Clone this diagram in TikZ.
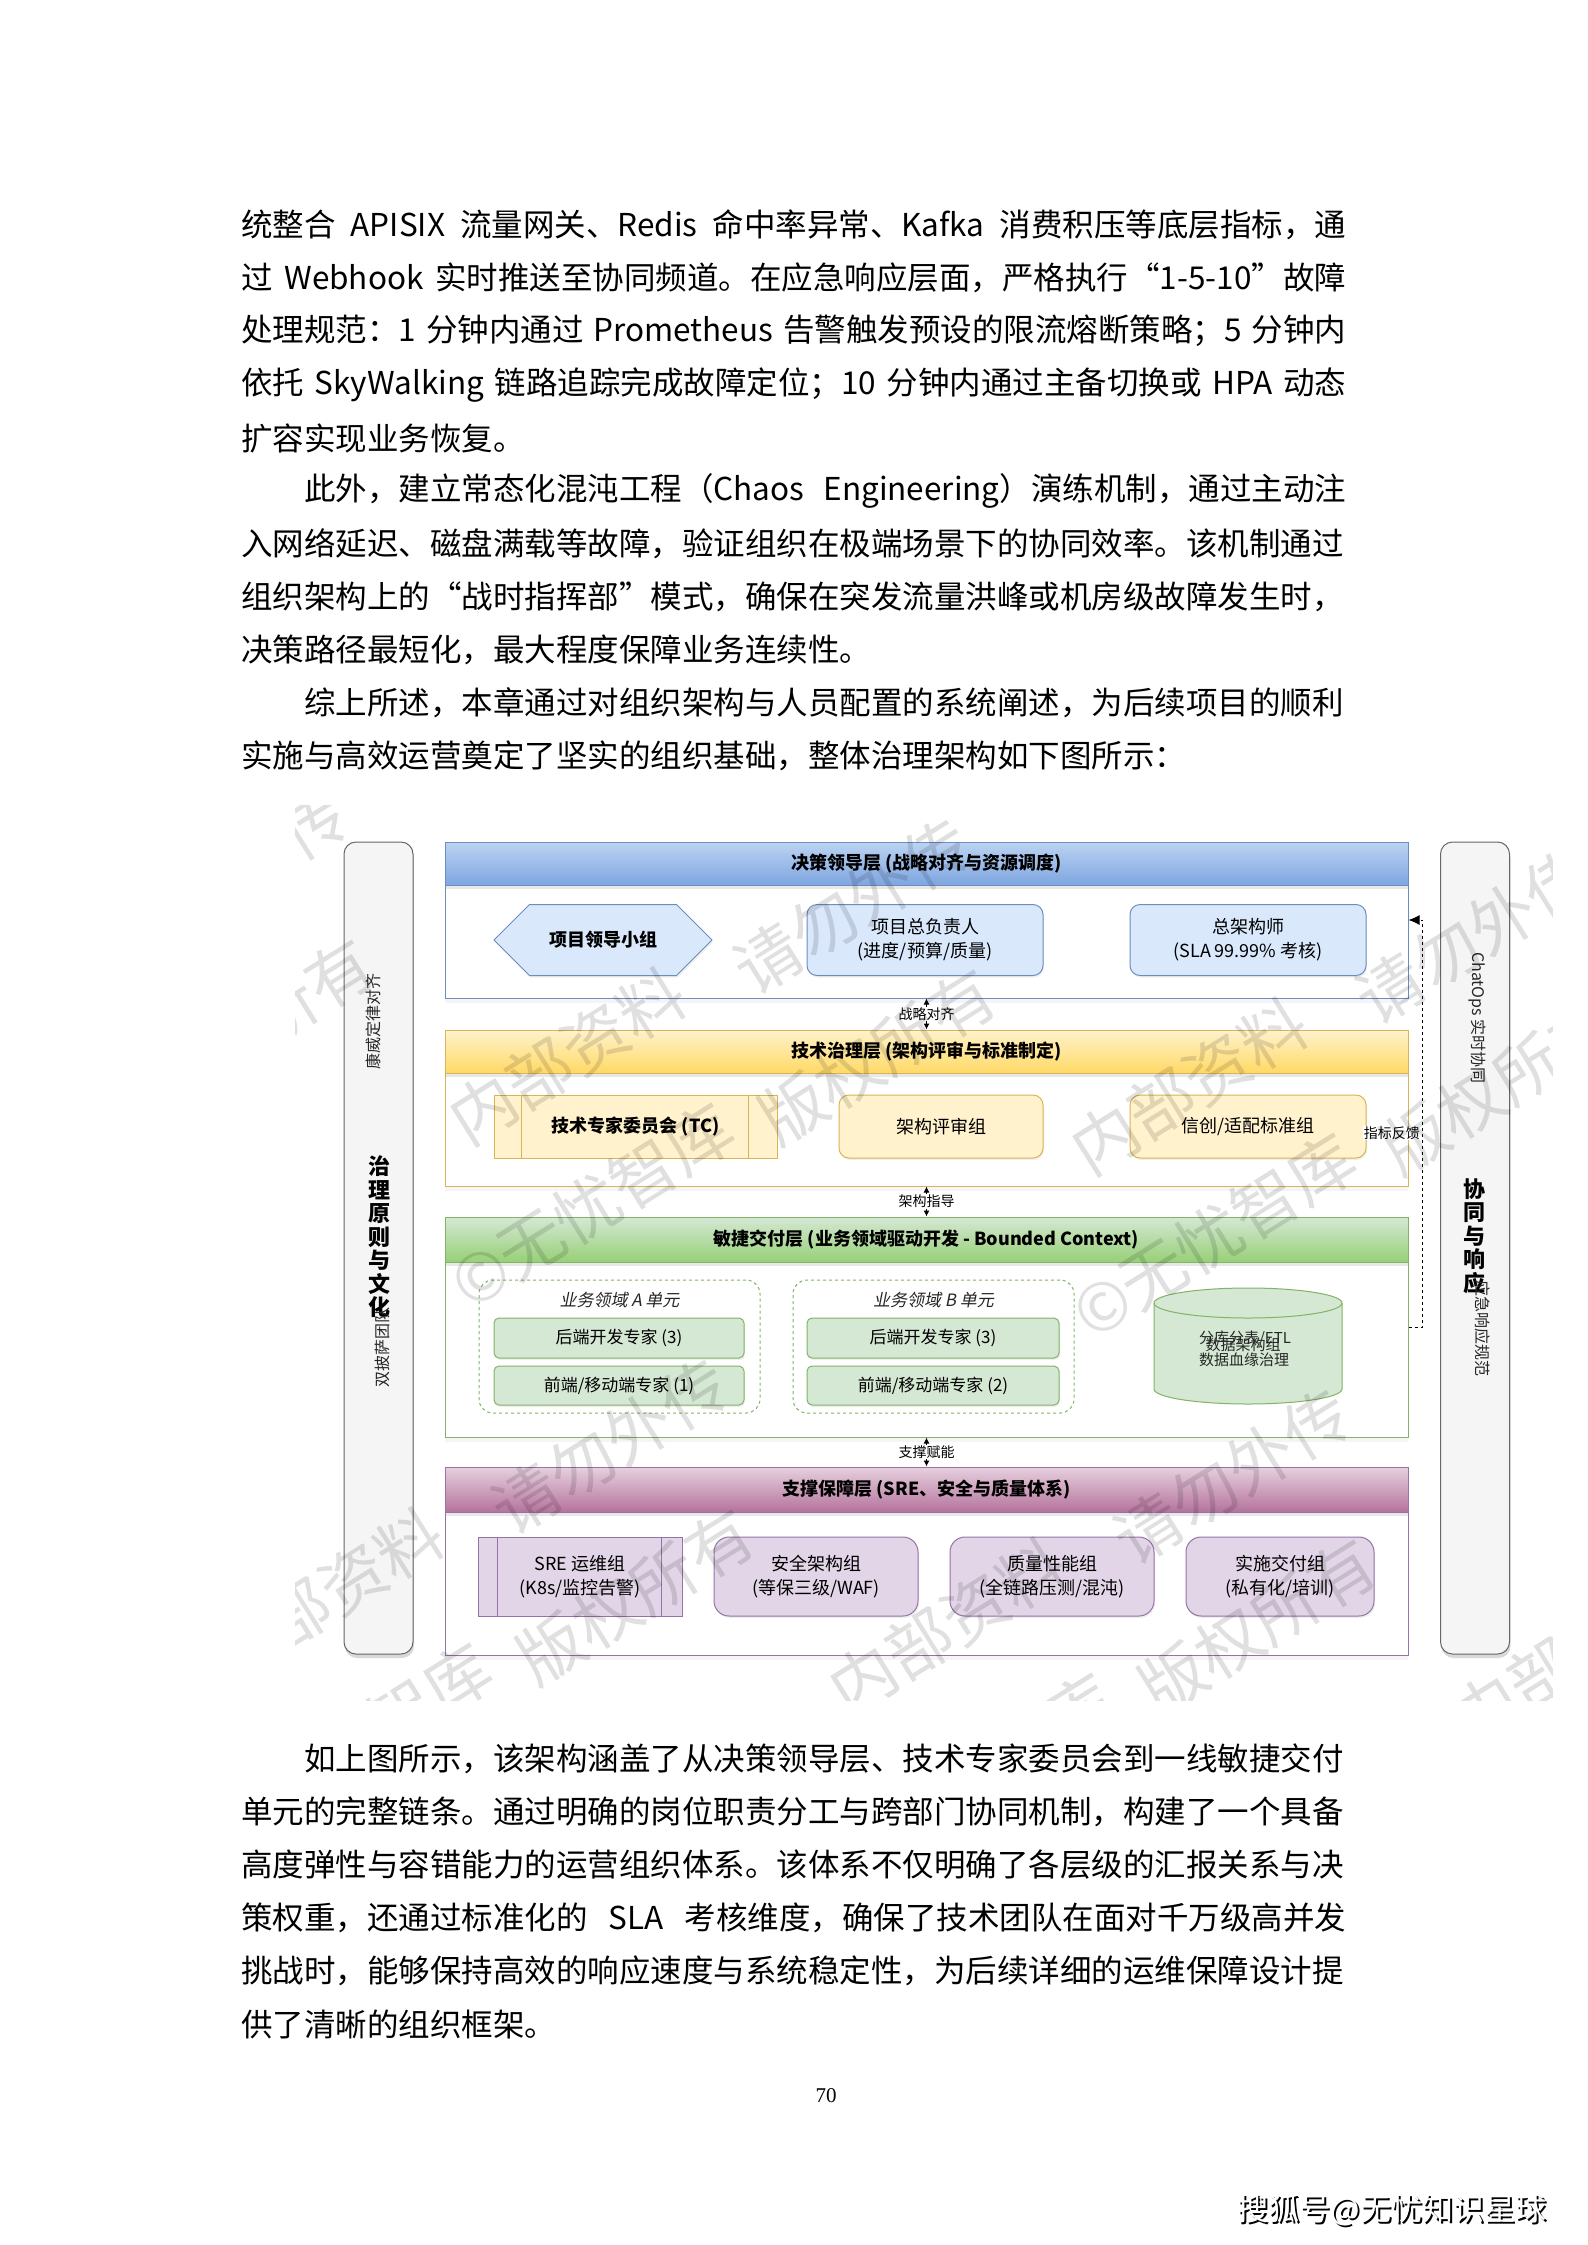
\documentclass[tikz,border=0pt]{standalone}
\usepackage{fontspec}
\setmainfont{Noto Sans CJK SC}
\newfontfamily\slfont[FakeSlant=0.2]{Noto Sans CJK SC}
\newfontfamily\numfont{Liberation Serif}
\usetikzlibrary{shapes.geometric,shapes.symbols,shadows,arrows.meta}
\XeTeXlinebreaklocale "zh"
\XeTeXlinebreakskip=0pt plus 2pt minus 0.3pt
\definecolor{bluestroke}{HTML}{6C8EBF}
\definecolor{bluefill}{HTML}{DAE8FC}
\definecolor{bluetop}{HTML}{BCD3F2}
\definecolor{bluebot}{HTML}{7EA6E0}
\definecolor{yelstroke}{HTML}{D6B656}
\definecolor{yelfill}{HTML}{FFF2CC}
\definecolor{yeltop}{HTML}{FFF2CC}
\definecolor{yelbot}{HTML}{FFD966}
\definecolor{grnstroke}{HTML}{82B366}
\definecolor{grnfill}{HTML}{D5E8D4}
\definecolor{grntop}{HTML}{D5E8D4}
\definecolor{grnbot}{HTML}{97D077}
\definecolor{purstroke}{HTML}{9673A6}
\definecolor{purfill}{HTML}{E1D5E7}
\definecolor{purtop}{HTML}{E6D0DE}
\definecolor{purbot}{HTML}{B5739D}
\definecolor{barfill}{HTML}{F5F5F5}
\definecolor{bardraw}{HTML}{666666}
\newcommand{\fs}[2]{\fontsize{#1}{#2}\selectfont}
\newcommand{\jl}[3]{\node[anchor=west,inner sep=0pt] (#1) at (241,#2) {\fs{31.5}{40}\hbox to 1105pt{#3}};}
\newcommand{\nl}[3]{\node[anchor=west,inner sep=0pt] (#1) at (241,#2) {\fs{31.5}{40}#3};}
\begin{document}
\begin{tikzpicture}[x=1pt,y=-1pt,
  sidebar/.style={draw=bardraw, fill=barfill, rounded corners=12pt, minimum width=69pt, minimum height=812pt, inner sep=0pt, line width=1pt, drop shadow={opacity=0.3, shadow xshift=1pt, shadow yshift=-4pt}},
  layer/.style={draw=#1, fill=white, minimum width=963pt, inner sep=0pt, line width=1pt, drop shadow={opacity=0.08, shadow xshift=0pt, shadow yshift=-5pt}},
  hdr/.style={minimum width=963pt, inner sep=0pt, font=\fs{18}{22}\bfseries, text=black, line width=1pt, drop shadow={opacity=0.18, shadow xshift=0pt, shadow yshift=-4pt}},
  box/.style={draw=#1, rounded corners=10pt, inner sep=2pt, align=center, font=\fs{18}{24}, text=black, line width=1pt, drop shadow={opacity=0.12, shadow xshift=1pt, shadow yshift=-2pt}},
  proc/.style={draw=#1, inner sep=2pt, align=center, font=\fs{18}{24}, text=black, line width=1pt},
  lbl/.style={fill=white, inner sep=1pt, font=\fs{14}{16}, text=black},
  side/.style={inner sep=0pt, font=\fs{16}{18}, text=black!85},
  stack/.style={inner sep=0pt, align=center, font=\fs{22}{23.5}\bfseries, text=black},
  wm/.style={inner sep=0pt, font=\fs{66}{66}, text=black, text opacity=0.12, rotate=32},
  conn/.style={line width=1pt, {Latex[length=6pt,width=6pt]}-{Latex[length=6pt,width=6pt]}},
  fb/.style={line width=1pt, dashed, -{Latex[length=11pt,width=10pt]}}]
\useasboundingbox (0,0) rectangle (1587,2245);
\fill[white] (0,0) rectangle (1587,2245);

% ---------- body text above ----------
\jl{t1}{225}{统整合 APISIX 流量网关、Redis 命中率异常、Kafka 消费积压等底层指标，通}
\jl{t2}{278}{过 Webhook 实时推送至协同频道。在应急响应层面，严格执行“1-5-10”故障}
\jl{t3}{331}{处理规范：1 分钟内通过 Prometheus 告警触发预设的限流熔断策略；5 分钟内}
\jl{t4}{385}{依托 SkyWalking 链路追踪完成故障定位；10 分钟内通过主备切换或 HPA 动态}
\nl{t5}{438}{扩容实现业务恢复。}
\jl{t6}{491}{\hspace*{2em}此外，建立常态化混沌工程（Chaos Engineering）演练机制，通过主动注}
\jl{t7}{544}{入网络延迟、磁盘满载等故障，验证组织在极端场景下的协同效率。该机制通过}
\jl{t8}{597}{组织架构上的“战时指挥部”模式，确保在突发流量洪峰或机房级故障发生时，}
\nl{t9}{650}{决策路径最短化，最大程度保障业务连续性。}
\jl{t10}{703}{\hspace*{2em}综上所述，本章通过对组织架构与人员配置的系统阐述，为后续项目的顺利}
\nl{t11}{756}{实施与高效运营奠定了坚实的组织基础，整体治理架构如下图所示：}

% ---------- side bars ----------
\node[sidebar] (LB) at (378.5,1248) {};
\node[sidebar] (RB) at (1475,1248) {};
\node[side, rotate=90] (lbt1) at (373,1021) {康威定律对齐};
\node[stack] (lbt2) at (379,1237) {治\\理\\原\\则\\与\\文\\化};
\node[side, rotate=90] (lbt3) at (382,1347) {双披萨团队};
\node[side, rotate=-90] (rbt1) at (1477,1018) {ChatOps 实时协同};
\node[stack] (rbt2) at (1474,1236) {协\\同\\与\\响\\应};
\node[side, rotate=-90] (rbt3) at (1483,1328) {应急响应规范};

% ---------- layers ----------
\node[layer=bluestroke, minimum height=156pt] (L1) at (926.5,920) {};
\node[layer=yelstroke, minimum height=156pt] (L2) at (926.5,1108) {};
\node[layer=grnstroke, minimum height=220pt] (L3) at (926.5,1327) {};
\node[layer=purstroke, minimum height=188pt] (L4) at (926.5,1561) {};

\node[hdr, draw=bluestroke, top color=bluetop, bottom color=bluebot, minimum height=43pt] (H1) at (926.5,863.5) {决策领导层 (战略对齐与资源调度)};
\node[hdr, draw=yelstroke, top color=yeltop, bottom color=yelbot, minimum height=43pt] (H2) at (926.5,1051.5) {技术治理层 (架构评审与标准制定)};
\node[hdr, draw=grnstroke, top color=grntop, bottom color=grnbot, minimum height=45pt] (H3) at (926.5,1239.5) {敏捷交付层 (业务领域驱动开发 - Bounded Context)};
\node[hdr, draw=purstroke, top color=purtop, bottom color=purbot, minimum height=45pt] (H4) at (926.5,1489.5) {支撑保障层 (SRE、安全与质量体系)};

% layer 1
\node[signal, signal to=east and west, signal pointer angle=90, draw=bluestroke, fill=bluefill, line width=1pt, minimum width=218pt, minimum height=71pt, inner sep=0pt, font=\fs{18}{24}\bfseries, drop shadow={opacity=0.12, shadow xshift=1pt, shadow yshift=-2pt}] (B11) at (603,940) {项目领导小组};
\node[box=bluestroke, fill=bluefill, minimum width=236pt, minimum height=71pt] (B12) at (925,940) {项目总负责人\\(进度/预算/质量)};
\node[box=bluestroke, fill=bluefill, minimum width=236pt, minimum height=71pt] (B13) at (1248,940) {总架构师\\(SLA 99.99\% 考核)};

% layer 2
\node[proc=yelstroke, fill=yelfill, minimum width=283pt, minimum height=63pt, font=\fs{18}{24}\bfseries] (B21) at (635.5,1126.5) {技术专家委员会 (TC)};
\draw[yelstroke, line width=1pt] ([xshift=28pt]B21.north west) -- ([xshift=28pt]B21.south west);
\draw[yelstroke, line width=1pt] ([xshift=-29pt]B21.north east) -- ([xshift=-29pt]B21.south east);
\node[box=yelstroke, fill=yelfill, minimum width=204pt, minimum height=63pt] (B22) at (941,1126.5) {架构评审组};
\node[box=yelstroke, fill=yelfill, minimum width=236pt, minimum height=63pt] (B23) at (1248,1126.5) {信创/适配标准组};

% layer 3
\node[draw=grnstroke, dashed, line width=1pt, rounded corners=14pt, minimum width=281pt, minimum height=133pt] (GA) at (619.5,1346.5) {};
\node[draw=grnstroke, dashed, line width=1pt, rounded corners=14pt, minimum width=281pt, minimum height=133pt] (GB) at (933.5,1346.5) {};
\node[inner sep=0pt, font=\fs{17}{20}\slfont, text=black!85] (GAt) at (619.5,1300) {业务领域 A 单元};
\node[inner sep=0pt, font=\fs{17}{20}\slfont, text=black!85] (GBt) at (933.5,1300) {业务领域 B 单元};
\node[box=grnstroke, fill=grnfill, rounded corners=5pt, minimum width=250pt, minimum height=40pt, font=\fs{17}{20}] (A1) at (619,1338) {后端开发专家 (3)};
\node[box=grnstroke, fill=grnfill, rounded corners=5pt, minimum width=250pt, minimum height=39pt, font=\fs{17}{20}] (A2) at (619,1385.5) {前端/移动端专家 (1)};
\node[box=grnstroke, fill=grnfill, rounded corners=5pt, minimum width=252pt, minimum height=40pt, font=\fs{17}{20}] (Bb1) at (933,1338) {后端开发专家 (3)};
\node[box=grnstroke, fill=grnfill, rounded corners=5pt, minimum width=252pt, minimum height=39pt, font=\fs{17}{20}] (Bb2) at (933,1385.5) {前端/移动端专家 (2)};
\node[inner sep=0pt, minimum width=188pt, minimum height=116pt] (Cyl) at (1248,1346) {};
\filldraw[draw=grnstroke, fill=grnfill, line width=1pt] (1154,1303) -- (1154,1389) arc[start angle=180, end angle=0, x radius=94, y radius=15] -- (1342,1303) arc[start angle=0, end angle=-180, x radius=94, y radius=15] -- cycle;
\draw[grnstroke, line width=1pt] (1154,1303) arc[start angle=180, end angle=0, x radius=94, y radius=15];
\node[inner sep=0pt, font=\fs{15}{16}, text=black!85] (cy1) at (1245,1339) {分库分表/ETL};
\node[inner sep=0pt, font=\fs{15}{16}, text=black!85] (cy2) at (1243,1345) {数据架构组};
\node[inner sep=0pt, font=\fs{15}{16}, text=black!85] (cy3) at (1244,1360) {数据血缘治理};

% layer 4
\node[proc=purstroke, fill=purfill, minimum width=204pt, minimum height=79pt] (S1) at (580,1576.5) {SRE 运维组\\(K8s/监控告警)};
\draw[purstroke, line width=1pt] ([xshift=20pt]S1.north west) -- ([xshift=20pt]S1.south west);
\draw[purstroke, line width=1pt] ([xshift=-21pt]S1.north east) -- ([xshift=-21pt]S1.south east);
\node[box=purstroke, fill=purfill, rounded corners=15pt, minimum width=204pt, minimum height=79pt] (S2) at (816,1576.5) {安全架构组\\(等保三级/WAF)};
\node[box=purstroke, fill=purfill, rounded corners=15pt, minimum width=204pt, minimum height=79pt] (S3) at (1052,1576.5) {质量性能组\\(全链路压测/混沌)};
\node[box=purstroke, fill=purfill, rounded corners=15pt, minimum width=188pt, minimum height=79pt] (S4) at (1280,1576.5) {实施交付组\\(私有化/培训)};

% connectors
\draw[conn] (L1.south) -- node[lbl] (c1) {战略对齐} (L2.north);
\draw[conn] (L2.south) -- node[lbl] (c2) {架构指导} (L3.north);
\draw[conn] (L3.south) -- node[lbl] (c3) {支撑赋能} (L4.north);
\draw[fb] (L3.east) -- ++(14,0) |- (L1.east);
\node[lbl, anchor=east] (fbl) at (1421,1133) {指标反馈};

% watermark
\begin{scope}
\clip (295,805) rectangle (1552,1700);
\foreach \px/\py [count=\i] in {567/1056, 1189/1086, -55/1026, 947/1626, 1569/1656, 325/1596, 187/486, 809/516} {
  \node[wm] (wma\i) at (\px,\py) {内部资料};
  \node[wm] (wmb\i) at (\px+285,\py-150) {请勿外传};
  \node[wm] (wmc\i) at (\px+25,\py+150) {©无忧智库};
  \node[wm] (wmd\i) at (\px+310,\py) {版权所有};
}
\end{scope}

% ---------- body text below ----------
\jl{u1}{1759}{\hspace*{2em}如上图所示，该架构涵盖了从决策领导层、技术专家委员会到一线敏捷交付}
\jl{u2}{1812}{单元的完整链条。通过明确的岗位职责分工与跨部门协同机制，构建了一个具备}
\jl{u3}{1865}{高度弹性与容错能力的运营组织体系。该体系不仅明确了各层级的汇报关系与决}
\jl{u4}{1918}{策权重，还通过标准化的 SLA 考核维度，确保了技术团队在面对千万级高并发}
\jl{u5}{1971}{挑战时，能够保持高效的响应速度与系统稳定性，为后续详细的运维保障设计提}
\nl{u6}{2024}{供了清晰的组织框架。}

\node[inner sep=0pt, font=\fs{21}{24}\numfont] (pg) at (826,2096) {70};
\node[inner sep=0pt, font=\fs{31}{34}, text=black] (shb) at (1394,2212) {搜狐号@无忧知识星球};
\node[inner sep=0pt, font=\fs{31}{34}, text=white] (sh) at (1392,2210) {搜狐号@无忧知识星球};
\end{tikzpicture}
\end{document}
